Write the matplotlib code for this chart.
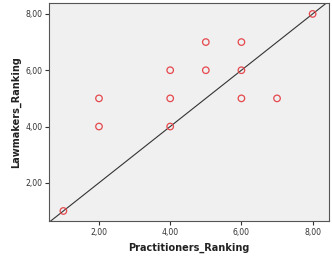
import matplotlib
matplotlib.use("Agg")
import matplotlib.pyplot as plt
from matplotlib.ticker import FuncFormatter

# Rankings
practitioners = [1, 2, 2, 4, 4, 4, 5, 5, 6, 6, 6, 7, 8]
lawmakers = [1, 5, 4, 6, 5, 4, 7, 6, 7, 6, 5, 5, 8]
ticks = [2, 4, 6, 8]

fig = plt.figure(figsize=(3.32, 2.68), dpi=100)
ax = fig.add_axes([0.148, 0.175, 0.843, 0.814])
ax.set_facecolor("#f0f0f0")

ax.scatter(practitioners, lawmakers, s=22, facecolors="none",
           edgecolors="#e5484d", linewidths=0.9, zorder=3)
ax.axline((0, 0), (1, 1), color="#333333", linewidth=0.8, zorder=2)

ax.set_xlim(0.6, 8.46)
ax.set_ylim(0.64, 8.39)
ax.set_xticks(ticks)
ax.set_yticks(ticks)
fmt = FuncFormatter(lambda v, p: f"{v:.2f}".replace(".", ","))
ax.xaxis.set_major_formatter(fmt)
ax.yaxis.set_major_formatter(fmt)
ax.tick_params(direction="out", length=3, width=0.8, color="#333333",
               labelsize=5.6, labelcolor="#333333", pad=2)
for sp in ax.spines.values():
    sp.set_color("#555555")
    sp.set_linewidth(0.8)

ax.set_xlabel("Practitioners_Ranking", fontsize=7, fontweight="bold",
              color="#222222", va="center")
ax.set_ylabel("Lawmakers_Ranking", fontsize=7, fontweight="bold",
              color="#222222", va="center")
ax.xaxis.set_label_coords(0.5, -0.124)
ax.yaxis.set_label_coords(-0.118, 0.5)

fig.savefig("out.png", dpi=100)
